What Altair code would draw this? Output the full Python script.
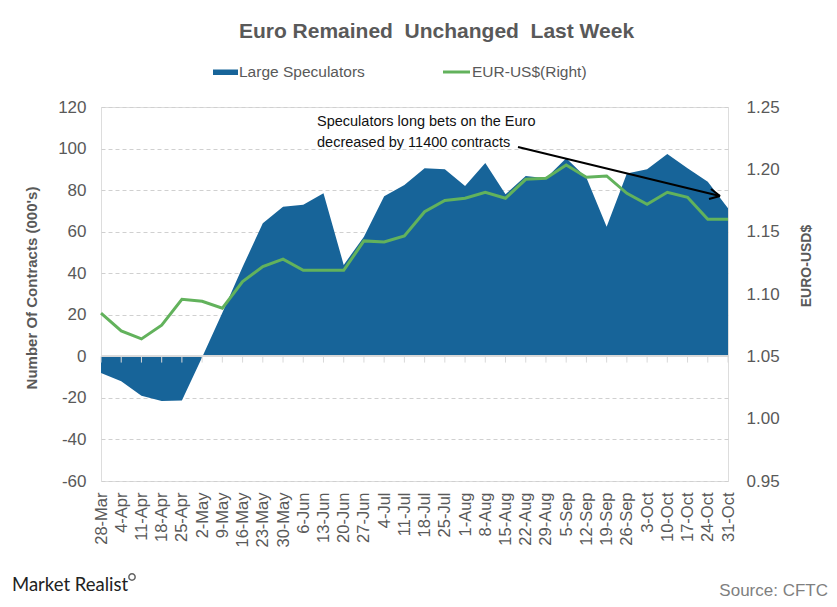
import altair as alt
import pandas as pd

dates = ["28-Mar", "4-Apr", "11-Apr", "18-Apr", "25-Apr", "2-May", "9-May", "16-May",
         "23-May", "30-May", "6-Jun", "13-Jun", "20-Jun", "27-Jun", "4-Jul", "11-Jul",
         "18-Jul", "25-Jul", "1-Aug", "8-Aug", "15-Aug", "22-Aug", "29-Aug", "5-Sep",
         "12-Sep", "19-Sep", "26-Sep", "3-Oct", "10-Oct", "17-Oct", "24-Oct", "31-Oct"]
speculators = [-8, -12, -19, -21.5, -21.3, -0.5, 21, 43,
               64, 72, 73, 78.5, 44, 57.6, 77, 82.5,
               90.5, 90, 82, 93, 78, 86.8, 85.7, 95.3,
               86, 62.4, 88, 90, 97.4, 90.5, 84, 71.3]
eurusd = [1.0846, 1.0704, 1.064, 1.075, 1.0958, 1.0942, 1.0886, 1.110,
          1.122, 1.128, 1.119, 1.119, 1.119, 1.1426, 1.1418, 1.1466,
          1.166, 1.175, 1.1768, 1.1816, 1.1768, 1.192, 1.1928, 1.2035,
          1.1937, 1.1947, 1.1808, 1.172, 1.1816, 1.1776, 1.160, 1.160]
left_ticks = [-60, -40, -20, 0, 20, 40, 60, 80, 100, 120]
right_ticks = [0.95, 1.00, 1.05, 1.10, 1.15, 1.20, 1.25]

df = pd.DataFrame({"date": dates, "spec": speculators, "eur": eurusd})

FONT = "Liberation Sans"
GRAY = "#595959"
BLUE = "#176499"
GREEN = "#62b25c"
W, H = 627, 374

xenc = alt.X("date:N", sort=dates, title=None,
             scale=alt.Scale(type="point", padding=0),
             axis=alt.Axis(labelAngle=-90, labelFontSize=16.5, labelColor=GRAY, labelFont=FONT,
                           domain=False, ticks=False, labelPadding=11, grid=False))

area = alt.Chart(df).mark_area(color=BLUE, opacity=1).encode(
    x=xenc,
    y=alt.Y("spec:Q", title=None,
            scale=alt.Scale(domain=[-60, 120], nice=False, zero=True),
            axis=alt.Axis(values=left_ticks, labelFontSize=17, labelColor=GRAY, labelFont=FONT,
                          labelExpr="'' + datum.value",
                          domain=False, ticks=False, labelPadding=15,
                          grid=True, gridColor="#d0d0d0", gridDash=[4, 3], gridWidth=1)),
)

zero_line = alt.Chart(df).mark_rule(color="#d9d9d9", strokeWidth=1).encode(
    x=alt.value(0), x2=alt.value(W), y=alt.Y(datum=0))
ticks = alt.Chart(df).mark_rule(color="#d9d9d9", strokeWidth=1).encode(
    x=alt.X("date:N", sort=dates), y=alt.Y(datum=0), y2=alt.datum(-3))

left = alt.layer(area, zero_line, ticks)

line = alt.Chart(df).mark_line(color=GREEN, strokeWidth=3).encode(
    x=alt.X("date:N", sort=dates),
    y=alt.Y("eur:Q", title=None,
            scale=alt.Scale(domain=[0.95, 1.25], nice=False, zero=False),
            axis=alt.Axis(orient="right", values=right_ticks, format=".2f", labelFontSize=17,
                          labelColor=GRAY, labelFont=FONT, domain=False, ticks=False,
                          labelPadding=18, grid=False)),
)

one = pd.DataFrame({"a": [0]})

def txt(text, x, y, size, color=GRAY, weight="normal", align="left", angle=0, font=FONT):
    return alt.Chart(one).mark_text(text=text, fontSize=size, color=color, fontWeight=weight,
                                    align=align, baseline="middle", angle=angle, font=font).encode(
        x=alt.value(x), y=alt.value(y))

title = txt("Euro Remained\u00a0 Unchanged\u00a0 Last Week", 335.5, -75, 21, weight="bold", align="center")
leg_rect = alt.Chart(one).mark_rect(color=BLUE).encode(
    x=alt.value(112), x2=alt.value(137), y=alt.value(-37.5), y2=alt.value(-32))
leg_t1 = txt("Large Speculators", 138, -35, 15.5)
leg_line = alt.Chart(one).mark_rule(color=GREEN, strokeWidth=3).encode(
    x=alt.value(342), x2=alt.value(369), y=alt.value(-35))
leg_t2 = txt("EUR-US$(Right)", 371, -35, 15.5)

ytitle_l = txt("Number Of Contracts (000's)", -69, 181, 15, weight="bold", align="center", angle=270)
ytitle_r = txt("EURO-USD$", 706, 159, 14, weight="bold", align="center", angle=270)

ann1 = txt("Speculators long bets on the Euro", 216, 15, 14.5, color="#111111")
ann2 = txt("decreased by 11400 contracts", 216, 36, 14.5, color="#111111")
arrow = alt.Chart(one).mark_rule(color="#000000", strokeWidth=2).encode(
    x=alt.value(417), y=alt.value(40), x2=alt.value(619), y2=alt.value(89))
head1 = alt.Chart(one).mark_rule(color="#000000", strokeWidth=2).encode(
    x=alt.value(619), y=alt.value(89), x2=alt.value(608), y2=alt.value(92))
head2 = alt.Chart(one).mark_rule(color="#000000", strokeWidth=2).encode(
    x=alt.value(619), y=alt.value(89), x2=alt.value(610), y2=alt.value(82))

logo = txt("Market Realist", -89, 478, 18.5, color="#222222", font="Lato")
logo_icon = alt.Chart(one).mark_point(shape="circle", size=40, color="#222222", strokeWidth=1.5,
                                      filled=False).encode(x=alt.value(31), y=alt.value(470))
source = txt("Source: CFTC", 727, 484, 17, color="#7f7f7f", align="right")

chart = alt.layer(
    alt.layer(left, line).resolve_scale(y="independent"),
    title, leg_rect, leg_t1, leg_line, leg_t2, ytitle_l, ytitle_r,
    ann1, ann2, arrow, head1, head2, logo, logo_icon, source,
).properties(
    width=W, height=H,
    autosize=alt.AutoSizeParams(type="none"),
    padding={"left": 101, "top": 107, "right": 109, "bottom": 126},
).configure_view(stroke=None).configure(background="white")

chart.save("out.html", embed_options={"renderer": "svg", "actions": False})
